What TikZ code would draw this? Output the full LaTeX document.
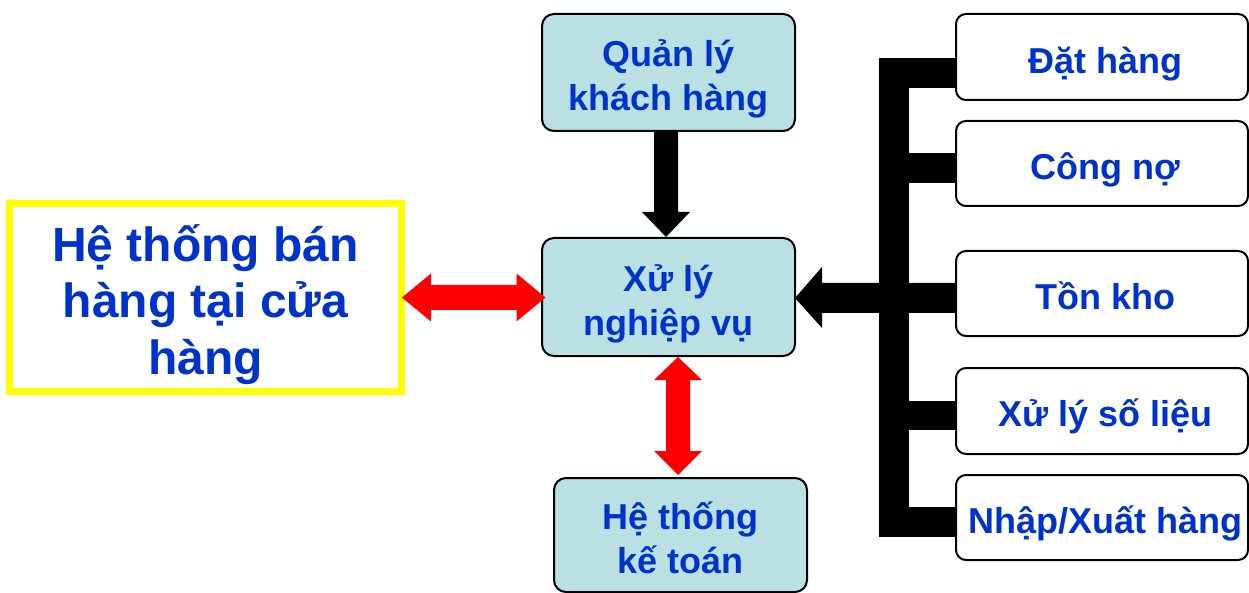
\documentclass[tikz,border=0pt]{standalone}
\usepackage{fontspec}
\setmainfont{Liberation Sans}
\usetikzlibrary{calc}
\definecolor{txtblue}{RGB}{0,51,204}
\definecolor{boxfill}{RGB}{187,224,227}
\definecolor{sysyellow}{RGB}{255,255,0}
\newcommand\mltext[1]{\begin{tabular}[t]{@{}c@{}}#1\end{tabular}}
\begin{document}
\begin{tikzpicture}[x=1pt,y=-1pt,
  bluebox/.style={draw=black,line width=2pt,fill=boxfill,rounded corners=12pt,
    minimum width=253pt,inner sep=0pt,text=txtblue,text height=0pt,
    font=\fontsize{36}{44}\selectfont\bfseries},
  whitebox/.style={draw=black,line width=2pt,fill=white,rounded corners=10pt,
    minimum width=292pt,minimum height=86pt,inner sep=0pt,text=txtblue,
    text height=32pt,text depth=0pt,
    font=\fontsize{36}{44}\selectfont\bfseries,
    execute at begin node=\hspace*{7pt}},
  sysbox/.style={draw=sysyellow,line width=7pt,fill=white,
    minimum width=392pt,minimum height=188pt,inner sep=0pt,text=txtblue,
    text height=0pt,text depth=71pt,
    font=\fontsize{48}{56}\selectfont\bfseries},
  busfill/.style={fill=black},
  redfill/.style={fill=red}
]
\useasboundingbox (0,0) rectangle (1249,593);

% nodes
\node[sysbox] (sys) at (205.5,297.5) {\mltext{Hệ thống bán\\hàng tại cửa\\hàng}};
\node[bluebox,minimum height=117pt,text depth=11pt] (ql) at (668.5,72.5) {\mltext{Quản lý\\khách hàng}};
\node[bluebox,minimum height=118pt,text depth=12pt] (xl) at (668.5,297) {\mltext{Xử lý\\nghiệp vụ}};
\node[bluebox,minimum height=114pt,text depth=11pt] (kt) at (680.5,535) {\mltext{Hệ thống\\kế toán}};

\node[whitebox,text height=33pt] (dh) at (1102,57) {Đặt hàng};
\node[whitebox,minimum height=85pt] (cn) at (1102,163.5) {Công nợ};
\node[whitebox,minimum height=85pt] (tk) at (1102,293.5) {Tồn kho};
\node[whitebox,text height=30pt] (sl) at (1102,411) {Xử lý số liệu};
\node[whitebox,minimum height=85pt] (nx) at (1102,517.5) {Nhập/Xuất hàng};

% black bus
\fill[busfill] ($(dh.west)+(-76,1)$) rectangle ($(nx.west)+(-46,19.5)$);
\fill[busfill] ($(dh.west)+(-76,1)$) rectangle ($(dh.west)+(0,31)$);
\fill[busfill] ($(cn.west)+(-46,-10.5)$) rectangle ($(cn.west)+(0,19.5)$);
\fill[busfill] ($(sl.west)+(-46,-10)$) rectangle ($(sl.west)+(0,19)$);
\fill[busfill] ($(nx.west)+(-46,-10.5)$) rectangle ($(nx.west)+(0,19.5)$);

% arrow from bus (Ton kho) into Xu ly
\coordinate (ta) at ($(xl.east)+(-1,1)$);
\fill[busfill] (ta) -- ++(27,-31) -- ++(0,16) -- ($(tk.west)+(0,-10.5)$)
  -- ($(tk.west)+(0,19.5)$) -- ($(ta)+(27,15)$) -- ++(0,15) -- cycle;

% down arrow Quan ly -> Xu ly
\coordinate (da) at ($(ql.south)+(-2.5,-1)$);
\coordinate (db) at ($(xl.north)+(-2.5,0)$);
\fill[busfill] ($(da)+(-12,0)$) -- ($(da)+(12,0)$) -- ($(db)+(12,-25)$)
  -- ($(db)+(24,-25)$) -- (db) -- ($(db)+(-24,-25)$) -- ($(db)+(-12,-25)$) -- cycle;

% red double arrow sys <-> Xu ly
\coordinate (ha) at ($(sys.east)+(-3,0)$);
\coordinate (hb) at ($(xl.west)+(4.5,0.5)$);
\fill[redfill] (ha) -- ++(29,-24) -- ++(0,11.5) -- ($(hb)+(-29,-12.5)$) -- ++(0,-11.5)
  -- (hb) -- ++(-29,24) -- ++(0,-11.5) -- ($(ha)+(29,12.5)$) -- ++(0,11.5) -- cycle;

% red double arrow Xu ly <-> Ke toan
\coordinate (va) at ($(xl.south)+(9.5,0)$);
\coordinate (vb) at ($(kt.north)+(-2.5,-2)$);
\fill[redfill] (va) -- ++(-24,23) -- ++(12,0) -- ($(vb)+(-12,-24)$) -- ++(-12,0)
  -- (vb) -- ++(24,-24) -- ++(-12,0) -- ($(va)+(12,23)$) -- ++(12,0) -- cycle;
\end{tikzpicture}
\end{document}
